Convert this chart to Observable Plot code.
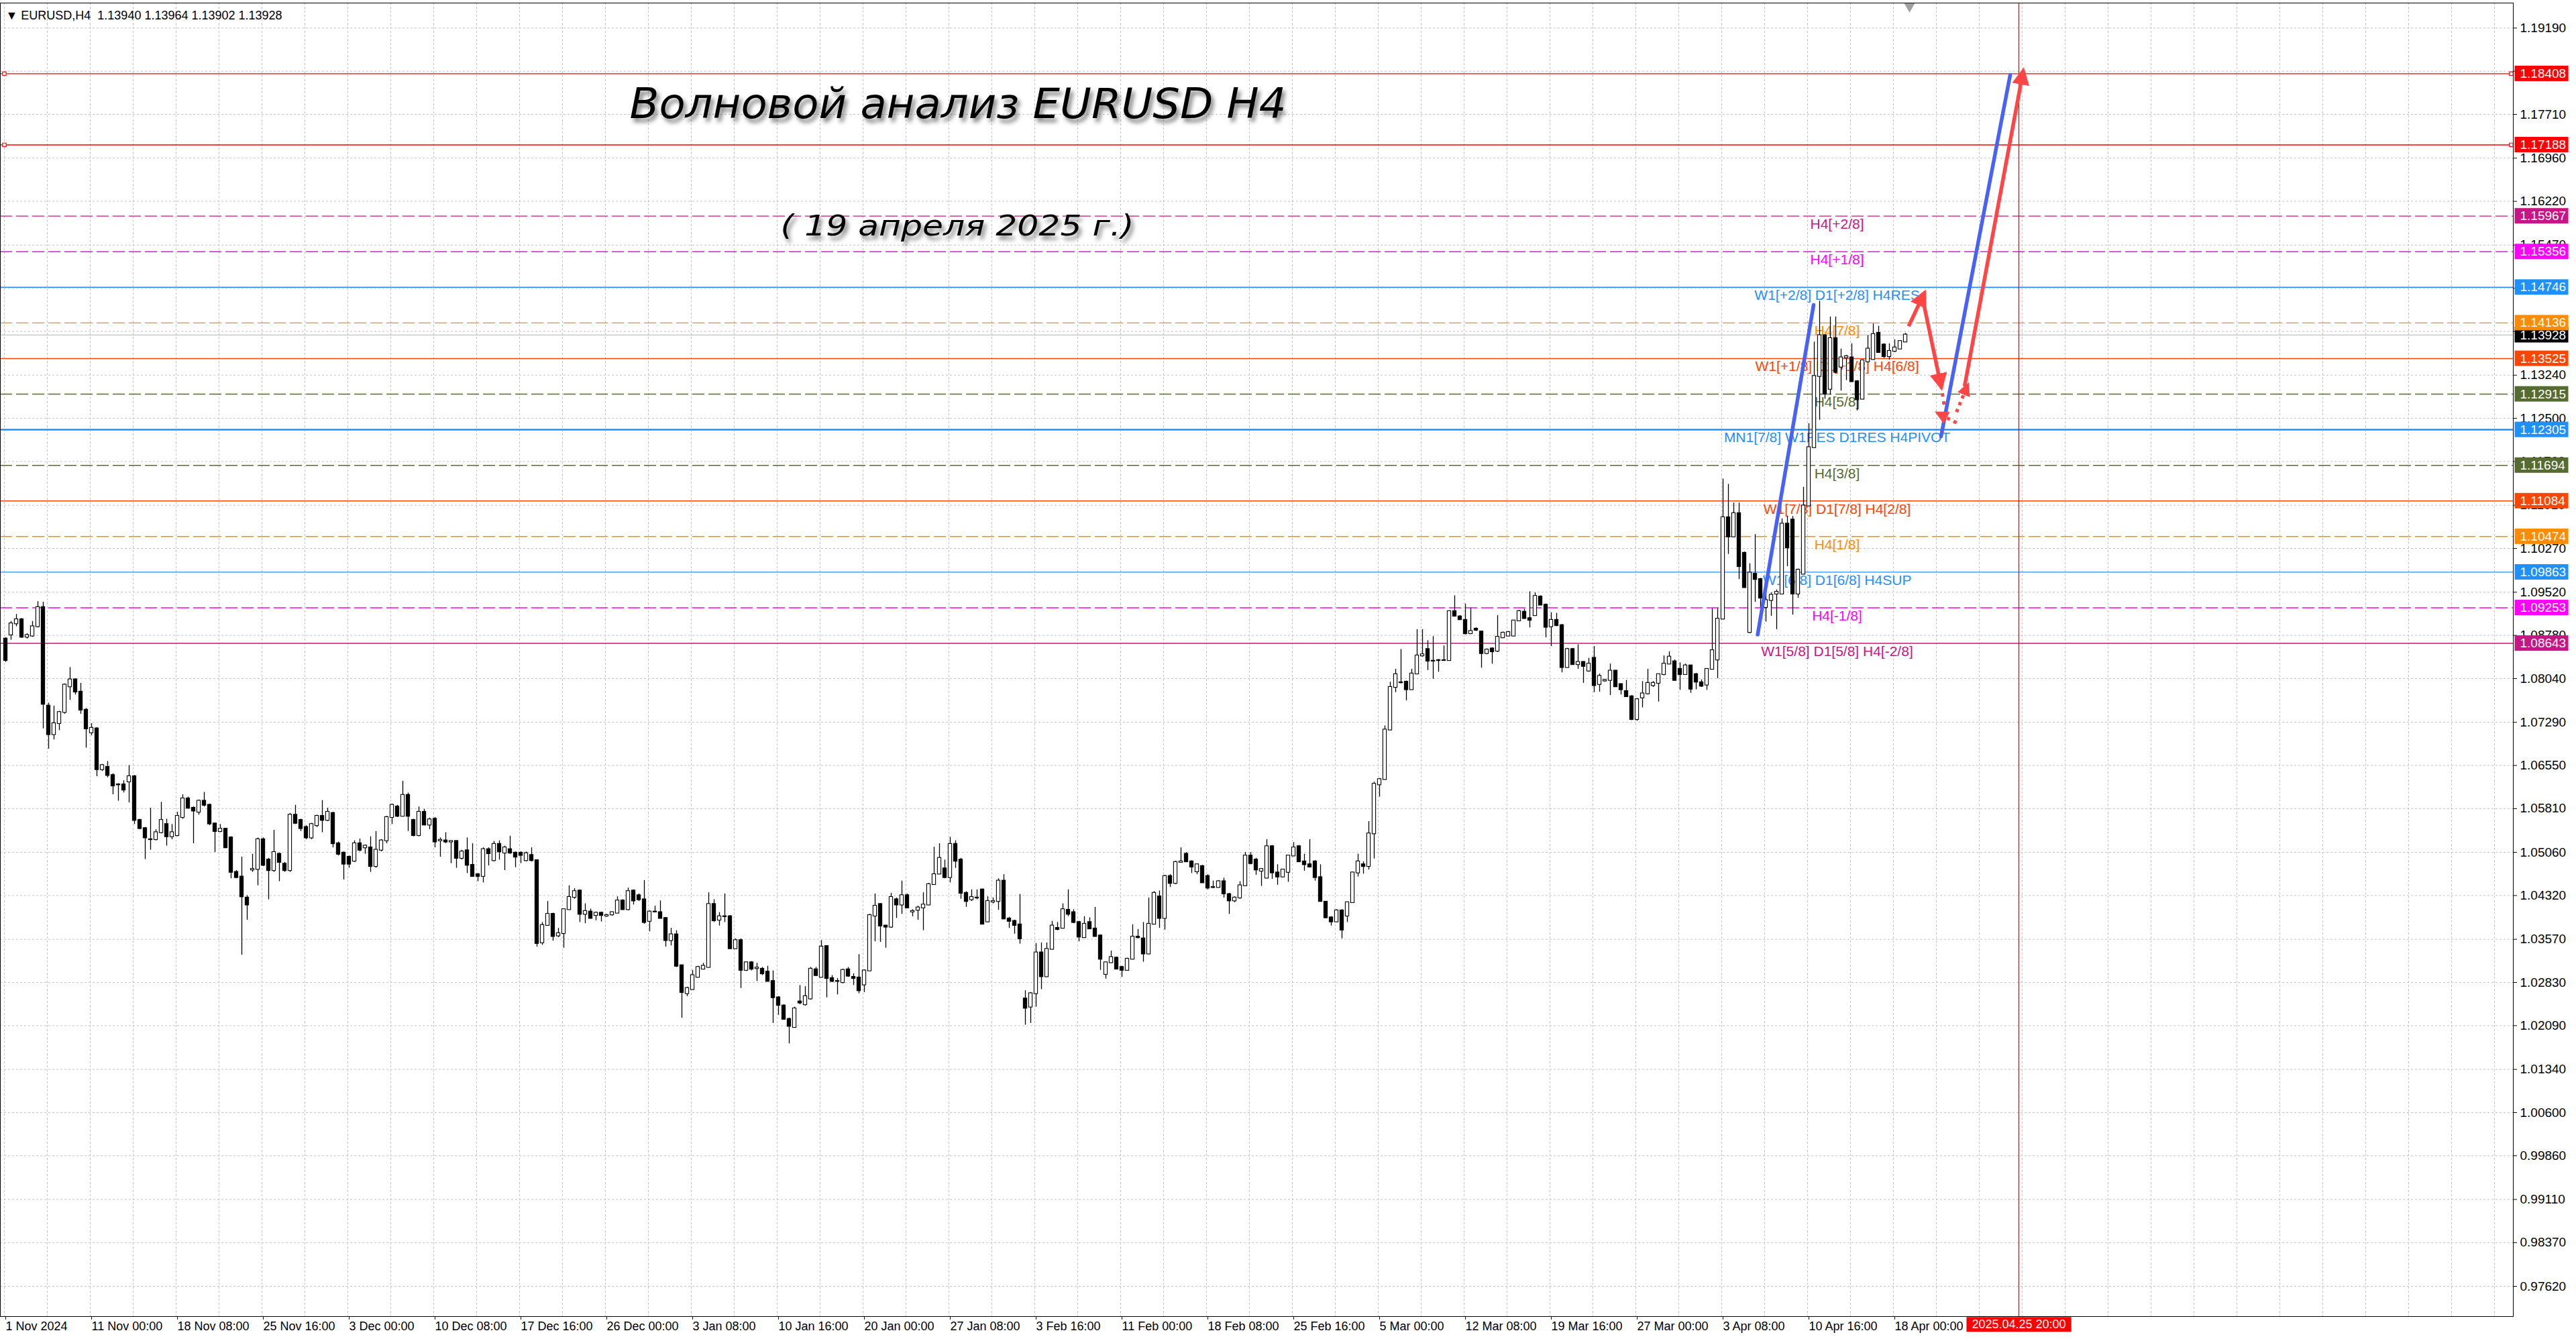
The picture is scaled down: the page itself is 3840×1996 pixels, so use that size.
<!DOCTYPE html>
<html>
<head>
<meta charset="utf-8">
<script src="https://cdn.jsdelivr.net/npm/d3@7"></script>
<script src="https://cdn.jsdelivr.net/npm/@observablehq/plot@0.6"></script>
<style>
  html, body { margin: 0; padding: 0; background: #fff; }
  #chart svg { display: block; }
</style>
</head>
<body>
<div id="chart"></div>
<script>
// EURUSD H4, 1 Nov 2024 .. 18 Apr 2025.
// One candle = two H4 bars, [open, high, low, close] in 1/10000.
const novBars = [
  [10872,10874,10832,10835],[10879,10902,10870,10898],[10898,10914,10893,10905],[10905,10907,10873,10875],
  [10875,10881,10872,10878],[10877,10902,10875,10893],[10893,10936,10891,10926],[10926,10935,10718,10760],
  [10757,10762,10683,10708],[10708,10757,10699,10727],[10727,10748,10715,10746],[10746,10795,10743,10793],
  [10790,10823,10767,10802],[10802,10804,10776,10781],[10781,10796,10743,10750],[10750,10753,10685,10718],
  [10711,10727,10706,10719],[10718,10720,10636,10648],[10648,10657,10645,10655],[10652,10662,10634,10638],
  [10638,10641,10605,10620],[10622,10624,10594,10622],[10622,10629,10608,10613],[10627,10655,10591,10636],
  [10636,10638,10554,10561],[10561,10563,10545,10547],[10547,10549,10494,10531],[10528,10582,10510,10528],
  [10528,10545,10526,10540],[10540,10592,10538,10561],[10554,10563,10517,10533],[10533,10554,10528,10540],
  [10535,10575,10533,10568],[10566,10605,10563,10598],[10598,10601,10580,10582],[10582,10584,10521,10577],
  [10575,10596,10570,10594],[10594,10609,10584,10587],[10587,10589,10552,10555],[10555,10556,10506,10542],
  [10542,10554,10540,10546],[10546,10547,10513,10514],[10531,10533,10461,10472],[10472,10475,10461,10463],
  [10464,10498,10330,10430],[10428,10432,10390,10416],[10476,10503,10472,10477],[10477,10531,10449,10528],
  [10528,10531,10482,10484],[10493,10496,10425,10475],[10475,10544,10472,10506],[10503,10505,10456,10489],
  [10486,10489,10472,10475],[10475,10573,10472,10570],[10570,10587,10554,10556],[10561,10563,10542,10547],
  [10549,10552,10528,10531],[10531,10556,10528,10554],[10552,10570,10549,10568],[10568,10595,10540,10561],
  [10561,10582,10559,10575],[10573,10575,10514,10521],[10521,10524,10500,10503],[10505,10507,10459,10486]
];
const decBars = [
  [10498,10500,10479,10486],[10491,10526,10489,10521],[10521,10529,10507,10510],[10514,10519,10503,10517],
  [10514,10533,10472,10482],[10482,10542,10479,10510],[10510,10528,10507,10526],[10526,10568,10521,10566],
  [10566,10589,10554,10587],[10584,10587,10566,10568],[10568,10628,10568,10604],[10604,10608,10542,10568],
  [10561,10563,10533,10535],[10535,10584,10533,10575],[10575,10580,10552,10553],[10553,10565,10545,10562],
  [10563,10566,10514,10524],[10526,10531,10498,10527],[10526,10540,10521,10524],[10524,10526,10487,10525],
  [10525,10526,10479,10496],[10496,10510,10493,10507],[10509,10531,10470,10484],[10484,10521,10464,10465],
  [10468,10470,10456,10465],[10465,10514,10454,10511],[10511,10514,10483,10504],[10492,10525,10490,10520],
  [10520,10526,10493,10507],[10505,10517,10475,10514],[10511,10534,10503,10505],[10505,10507,10480,10498],
  [10505,10507,10487,10501],[10492,10507,10490,10504],[10501,10514,10490,10492],[10492,10493,10344,10350],
  [10351,10386,10347,10381],[10381,10422,10380,10400],[10400,10402,10354,10362],[10363,10376,10360,10367],
  [10367,10409,10342,10408],[10408,10449,10407,10429],[10429,10444,10426,10439],[10440,10442,10386,10400],
  [10400,10418,10384,10405],[10404,10409,10392,10393],[10398,10404,10389,10402],[10402,10404,10387,10398],
  [10397,10400,10395,10398],[10399,10404,10397,10403],[10402,10430,10401,10423],[10423,10425,10407,10408],
  [10408,10445,10406,10439],[10440,10442,10416,10423],[10432,10435,10422,10425],[10425,10458,10383,10386],
  [10388,10406,10370,10404],[10404,10414,10403,10404],[10403,10423,10392,10393],[10393,10394,10344,10355],
  [10355,10376,10346,10365],[10365,10372,10309,10311],[10312,10313,10222,10266],[10264,10275,10259,10273]
];
const janBars = [
  [10271,10304,10270,10295],[10292,10311,10291,10309],[10306,10316,10305,10311],[10309,10437,10308,10417],
  [10417,10425,10386,10389],[10390,10403,10380,10396],[10396,10435,10386,10396],[10396,10398,10340,10341],
  [10341,10358,10340,10355],[10355,10358,10273,10304],[10304,10318,10302,10317],[10317,10319,10303,10306],
  [10307,10316,10285,10308],[10306,10309,10295,10298],[10301,10311,10284,10285],[10285,10303,10213,10257],
  [10257,10259,10227,10244],[10243,10245,10219,10220],[10220,10222,10178,10208],[10206,10241,10205,10238],
  [10250,10278,10245,10248],[10245,10276,10243,10259],[10255,10309,10253,10306],[10305,10309,10294,10295],
  [10292,10355,10291,10344],[10345,10346,10257,10290],[10290,10295,10283,10285],[10285,10290,10262,10285],
  [10283,10306,10281,10304],[10305,10309,10292,10294],[10292,10298,10278,10290],[10291,10331,10264,10269],
  [10279,10305,10266,10303],[10303,10400,10303,10398],[10397,10435,10353,10414],[10417,10418,10352,10380],
  [10380,10381,10342,10378],[10378,10436,10376,10429],[10425,10428,10393,10416],[10416,10457,10400,10432],
  [10432,10435,10410,10411],[10404,10408,10396,10405],[10407,10414,10390,10411],[10411,10437,10372,10416],
  [10416,10453,10415,10451],[10451,10515,10450,10468],[10469,10521,10468,10496],[10478,10493,10461,10463],
  [10463,10532,10454,10520],[10520,10526,10479,10491],[10493,10496,10426,10436],[10436,10439,10412,10422],
  [10425,10442,10422,10429],[10428,10442,10425,10428],[10442,10443,10382,10383],[10387,10430,10386,10422],
  [10421,10428,10418,10422],[10422,10461,10407,10457],[10457,10468,10392,10392],[10392,10395,10376,10388],
  [10388,10390,10366,10381],[10382,10434,10349,10358],[10255,10269,10210,10239],[10241,10266,10213,10264]
];
const febBars = [
  [10264,10350,10241,10334],[10334,10351,10271,10293],[10293,10351,10292,10340],[10340,10388,10339,10380],
  [10376,10386,10372,10374],[10376,10418,10375,10408],[10407,10442,10396,10400],[10403,10408,10384,10386],
  [10386,10388,10353,10361],[10360,10396,10359,10383],[10386,10394,10374,10375],[10375,10412,10361,10362],
  [10363,10365,10304,10323],[10297,10318,10289,10317],[10317,10337,10316,10326],[10325,10327,10305,10306],
  [10309,10311,10292,10304],[10304,10325,10303,10323],[10323,10382,10322,10361],[10361,10374,10358,10360],
  [10358,10386,10318,10332],[10332,10428,10331,10383],[10383,10439,10382,10436],[10430,10440,10376,10393],
  [10393,10467,10373,10465],[10465,10468,10446,10453],[10453,10491,10451,10489],[10489,10514,10489,10490],
  [10503,10506,10489,10490],[10490,10492,10470,10481],[10473,10486,10468,10485],[10482,10484,10454,10454],
  [10465,10468,10442,10445],[10446,10457,10444,10446],[10446,10458,10445,10456],[10456,10462,10428,10435],
  [10434,10436,10400,10423],[10423,10430,10420,10428],[10428,10456,10426,10449],[10449,10506,10448,10500],
  [10500,10506,10485,10487],[10493,10496,10467,10476],[10474,10478,10448,10477],[10462,10528,10461,10516],
  [10516,10518,10460,10471],[10471,10485,10450,10464],[10464,10477,10463,10476],[10472,10500,10455,10500],
  [10500,10523,10499,10514],[10516,10518,10489,10490],[10490,10503,10474,10485],[10485,10528,10480,10481],
  [10490,10492,10457,10463],[10463,10485,10421,10422],[10421,10422,10393,10394],[10394,10396,10380,10387],
  [10387,10408,10386,10406],[10406,10408,10358,10373],[10397,10421,10386,10420],[10420,10472,10419,10471],
  [10471,10503,10464,10490],[10485,10490,10469,10482],[10482,10559,10476,10538],[10538,10627,10495,10623]
];
const marBars = [
  [10622,10633,10601,10631],[10631,10723,10630,10716],[10716,10798,10715,10789],[10789,10820,10780,10811],
  [10797,10854,10795,10797],[10798,10800,10766,10785],[10785,10820,10784,10812],[10812,10888,10811,10843],
  [10843,10888,10841,10845],[10854,10869,10818,10834],[10834,10876,10803,10834],[10835,10837,10815,10835],
  [10835,10860,10834,10835],[10835,10920,10834,10919],[10919,10946,10910,10911],[10910,10912,10904,10905],
  [10904,10932,10879,10881],[10881,10925,10880,10885],[10889,10891,10885,10887],[10884,10885,10822,10847],
  [10847,10855,10845,10853],[10855,10857,10829,10850],[10851,10912,10849,10875],[10874,10884,10873,10882],
  [10877,10885,10876,10883],[10877,10904,10876,10903],[10903,10921,10902,10919],[10918,10923,10906,10907],
  [10907,10953,10891,10904],[10912,10951,10911,10945],[10944,10946,10929,10930],[10930,10932,10874,10892],
  [10893,10917,10859,10904],[10904,10916,10893,10895],[10895,10897,10814,10823],[10823,10856,10822,10854],
  [10854,10856,10827,10828],[10828,10862,10820,10832],[10832,10833,10796,10825],[10817,10839,10815,10829],
  [10839,10859,10780,10792],[10794,10812,10781,10808],[10800,10803,10798,10801],[10801,10829,10775,10817],
  [10817,10818,10789,10790],[10794,10795,10776,10785],[10782,10801,10773,10773],[10773,10775,10732,10734],
  [10734,10770,10731,10768],[10771,10799,10754,10778],[10778,10820,10776,10796],[10792,10799,10789,10796],
  [10796,10799,10764,10811],[10811,10843,10809,10829],[10829,10850,10828,10841],[10833,10836,10800,10801],
  [10820,10831,10784,10811],[10811,10829,10810,10826],[10826,10827,10779,10786],[10811,10813,10785,10798],
  [10797,10802,10789,10791],[10793,10820,10784,10820],[10820,10924,10819,10852],[10836,10924,10804,10906]
];
const aprBars = [
  [10906,11146,10905,11080],[11080,11137,11017,11047],[11047,11105,11046,11087],[11087,11105,10974,10996],
  [11019,11021,10959,10960],[10883,11001,10881,10985],[10983,11051,10935,10974],[10974,10976,10924,10942],
  [10926,10969,10901,10938],[10938,10951,10911,10947],[10949,10956,10888,10952],[10949,11078,10948,11069],
  [11069,11082,10996,11028],[11076,11082,10913,10949],[10949,10992,10942,10990],[10983,11132,10982,11100],
  [11100,11241,11099,11200],[11200,11381,11199,11322],[11322,11451,11247,11392],[11392,11394,11283,11292],
  [11300,11424,11290,11387],[11387,11424,11327,11329],[11338,11369,11297,11354],[11354,11358,11315,11356],
  [11354,11378,11312,11313],[11313,11315,11263,11282],[11283,11350,11282,11349],[11347,11392,11345,11369],
  [11351,11412,11350,11394],[11396,11408,11362,11363],[11376,11378,11353,11356],[11356,11378,11350,11365],
  [11365,11385,11363,11371],[11369,11383,11368,11382],[11381,11396,11380,11393]
];

// right price scale and bottom time scale (bar index, one H4 bar per step)
const priceTicks = [1.19190, 1.18450, 1.17710, 1.16960, 1.16220, 1.15470, 1.14730, 1.13990, 1.13240, 1.12500,
  1.11760, 1.11010, 1.10270, 1.09520, 1.08780, 1.08040, 1.07290, 1.06550, 1.05810, 1.05060, 1.04320, 1.03570,
  1.02830, 1.02090, 1.01340, 1.00600, 0.99860, 0.99110, 0.98370, 0.97620];
const timeTicks = [0, 32, 64, 96, 128, 160, 192, 224, 256, 288, 320, 352, 384, 416, 448, 480, 512, 544,
  576, 608, 640, 672, 704];
const timeLabels = ["1 Nov 2024", "11 Nov 00:00", "18 Nov 08:00", "25 Nov 16:00", "3 Dec 00:00", "10 Dec 08:00",
  "17 Dec 16:00", "26 Dec 00:00", "3 Jan 08:00", "10 Jan 16:00", "20 Jan 00:00", "27 Jan 08:00", "3 Feb 16:00",
  "11 Feb 00:00", "18 Feb 08:00", "25 Feb 16:00", "5 Mar 00:00", "12 Mar 08:00", "19 Mar 16:00", "27 Mar 00:00",
  "3 Apr 08:00", "10 Apr 16:00", "18 Apr 00:00"];

// Murrey levels
const levelPrices = [1.18408, 1.17188, 1.15967, 1.15356, 1.14746, 1.14136, 1.13525, 1.12915, 1.12305,
  1.11694, 1.11084, 1.10474, 1.09863, 1.09253, 1.08643];
const levelTags = ["", "", "H4[+2/8]", "H4[+1/8]", "W1[+2/8] D1[+2/8] H4RES", "H4[7/8]",
  "W1[+1/8] D1[+1/8] H4[6/8]", "H4[5/8]", "MN1[7/8] W1RES D1RES H4PIVOT", "H4[3/8]",
  "W1[7/8] D1[7/8] H4[2/8]", "H4[1/8]", "W1[6/8] D1[6/8] H4SUP", "H4[-1/8]", "W1[5/8] D1[5/8] H4[-2/8]"];
const levelKinds = ["target", "target", "±2/8", "±1/8", "8/8", "7/8", "6/8", "5/8", "4/8",
  "3/8", "2/8", "1/8", "0/8", "±1/8", "±2/8"];

const bid = 1.13928;
const header = "▼ EURUSD,H4  1.13940 1.13964 1.13902 1.13928";
const futureBar = 750.75;
const futureLabel = "2025.04.25 20:00";

// hand-drawn wave forecast, [bar, price] -> [bar, price]
const blueWaves = [[653.4, 1.08793, 674.25, 1.14445], [721.75, 1.12190, 747.5, 1.18383]];
const redArrows = [[709.65, 1.14078, 715.25, 1.14628], [715.25, 1.14470, 721.7, 1.13061],
  [730.5, 1.13048, 752.25, 1.18430]];
const redDotted = [[721.75, 1.13066, 723.0, 1.12699]];
const redDottedArrows = [[727.5, 1.12424, 720.75, 1.12584], [727.5, 1.12607, 731.5, 1.13054]];

const title = "Волновой анализ EURUSD H4";
const subtitle = "( 19 апреля 2025 г.)";

// ---------------------------------------------------------------
const F = "Tahoma, 'Liberation Sans', Arial, sans-serif";
const HAND = "'DejaVu Sans Condensed', 'DejaVu Sans', sans-serif";
const BLUE = "#4862f6", RED = "#ff4646";

const kindColor = {
  "target": "#ff0000", "±2/8": "#c71585", "±1/8": "#ff00ff",
  "8/8": "#1e90ff", "7/8": "#ff8c00", "6/8": "#ff4500", "5/8": "#556b2f",
  "4/8": "#1e90ff", "3/8": "#556b2f", "2/8": "#ff4500", "1/8": "#ff8c00", "0/8": "#1e90ff"
};

const candles = [...novBars, ...decBars, ...janBars, ...febBars, ...marBars, ...aprBars]
  .map(([o, h, l, c], k) => ({bar: 2 * k + 0.5, open: o / 1e4, high: h / 1e4, low: l / 1e4, close: c / 1e4}));

const levels = levelPrices.map((price, i) => ({
  price, tag: levelTags[i], kind: levelKinds[i], dashed: levelTags[i].startsWith("H4[")
}));
const seg = ([x1, y1, x2, y2]) => ({x1, y1, x2, y2});
const tags = [{price: bid, color: "#000"}, ...levels.map(d => ({price: d.price, color: kindColor[d.kind]}))];
const targets = levels.filter(d => d.kind === "target");
const segOpts = {x1: "x1", y1: "y1", x2: "x2", y2: "y2"};

const chart = Plot.plot({
  width: 3840,
  height: 1996,
  marginLeft: 0,
  marginRight: 94,
  marginTop: 4,
  marginBottom: 34,
  style: {background: "#fff", color: "#000", fontFamily: F},
  x: {domain: [-1.5, 935]},
  y: {domain: [0.971036, 1.196193]},
  color: {domain: Object.keys(kindColor), range: Object.values(kindColor)},
  marks: [
    Plot.gridX(d3.range(0, 935, 16), {stroke: "#c2c2c2", strokeOpacity: 1, strokeDasharray: "3,3"}),
    Plot.gridY(priceTicks, {stroke: "#c2c2c2", strokeOpacity: 1, strokeDasharray: "3,3"}),

    Plot.ruleY([bid], {stroke: "#c0c0c0", strokeWidth: 1.3}),
    Plot.ruleY(levels.filter(d => !d.dashed), {
      y: "price", stroke: "kind", strokeWidth: d => d.kind === "4/8" ? 2.6 : 1.4
    }),
    Plot.ruleY(levels.filter(d => d.dashed), {y: "price", stroke: "kind", strokeWidth: 1.4, strokeDasharray: "18,6"}),
    Plot.dot(targets, {x: 0, y: "price", symbol: "square", r: 3, stroke: "#ff0000", fill: "#fff", strokeWidth: 1.2}),
    Plot.dot(targets, {x: 934.25, y: "price", symbol: "square", r: 3, stroke: "#ff0000", fill: "#fff", strokeWidth: 1.2}),

    Plot.text(levels.filter(d => d.tag), {
      x: 683, y: "price", text: "tag", fill: "kind", fontSize: 21,
      fontFamily: "'Liberation Sans', Arial, sans-serif", lineAnchor: "top", dy: 4
    }),

    Plot.ruleX(candles, {x: "bar", y1: "low", y2: "high", stroke: "#000", strokeWidth: 1.3}),
    Plot.rect(candles, {
      x1: d => d.bar - 0.65, x2: d => d.bar + 0.65, y1: "open", y2: "close",
      fill: d => d.close >= d.open ? "#fff" : "#000", stroke: "#000", strokeWidth: 1.1,
      insetTop: -0.6, insetBottom: -0.6
    }),

    Plot.ruleX([futureBar], {stroke: "#ff0000", strokeWidth: 1.3}),

    // link order matters: heads are attached below by position
    Plot.link(blueWaves.map(seg), {...segOpts, stroke: BLUE, strokeWidth: 5.5, strokeLinecap: "round"}),
    Plot.link(redArrows.map(seg), {...segOpts, stroke: RED, strokeWidth: 5.5}),
    Plot.link(redDotted.map(seg), {...segOpts, stroke: RED, strokeWidth: 5, strokeDasharray: "5,7"}),
    Plot.link(redDottedArrows.map(seg), {...segOpts, stroke: RED, strokeWidth: 5, strokeDasharray: "5,6"}),

    Plot.text([title], {
      x: 233, y: 1.17873, text: d => d, textAnchor: "start", fontSize: 62, fontFamily: HAND,
      fontStyle: "italic", fill: "#000"
    }),
    Plot.text([subtitle], {
      x: 289.25, y: 1.15789, text: d => d, textAnchor: "start", fontSize: 42, fontFamily: HAND,
      fontStyle: "italic", fill: "#000"
    }),
    Plot.text([header], {
      frameAnchor: "top-left", text: d => d, textAnchor: "start", lineAnchor: "top",
      dx: 8, dy: 12, fontSize: 18, fill: "#000"
    }),

    Plot.dot([710], {x: d => d, frameAnchor: "top", dy: 5, symbol: "triangle", rotate: 180, r: 6, fill: "#a0a0a0"}),

    Plot.axisY(priceTicks, {
      anchor: "right", tickFormat: d => d.toFixed(5), tickSize: 5, tickPadding: 5,
      fontSize: 19, fontFamily: F, label: null
    }),
    Plot.axisX(timeTicks, {
      anchor: "bottom", tickFormat: d => timeLabels[timeTicks.indexOf(d)], tickSize: 5, tickPadding: 3,
      textAnchor: "start", dx: 2, fontSize: 18, fontFamily: F, label: null
    }),
    Plot.frame({stroke: "#000"}),

    Plot.text(tags, {
      y: "price", text: d => d.price.toFixed(5), frameAnchor: "right", dx: 10, textAnchor: "start",
      fill: "#fff", fontSize: 19, fontFamily: F
    }),
    Plot.text([futureLabel], {
      x: futureBar, frameAnchor: "bottom", text: d => d, lineAnchor: "top", dy: 5,
      fill: "#fff", fontSize: 18, fontFamily: F
    })
  ]
});

document.getElementById("chart").appendChild(chart);
const svg = d3.select(chart);
const defs = svg.insert("defs", ":first-child");

// coloured boxes behind the white price tags and the time tag
const boxColor = new Map(tags.map(d => [d.price.toFixed(5), d.color]));
boxColor.set(futureLabel, "#ff0000");
svg.selectAll("text").each(function () {
  const key = this.textContent;
  if (!boxColor.has(key) || getComputedStyle(this).fill !== "rgb(255, 255, 255)") return;
  const b = this.getBBox();
  const isTime = key === futureLabel;
  const rect = document.createElementNS("http://www.w3.org/2000/svg", "rect");
  const tf = this.getAttribute("transform");
  if (tf) rect.setAttribute("transform", tf);
  rect.setAttribute("x", b.x - 8);
  rect.setAttribute("y", b.y - 1);
  rect.setAttribute("width", isTime ? b.width + 16 : 80);
  rect.setAttribute("height", b.height + 2);
  rect.setAttribute("fill", boxColor.get(key));
  rect.setAttribute("stroke", "none");
  this.parentNode.insertBefore(rect, this);
});

// filled arrow heads for the red forecast arrows
function head(id, size) {
  defs.append("marker").attr("id", id).attr("viewBox", "0 0 10 10").attr("refX", 7).attr("refY", 5)
    .attr("markerWidth", size).attr("markerHeight", size).attr("markerUnits", "userSpaceOnUse")
    .attr("orient", "auto")
    .append("path").attr("d", "M0,0L10,5L0,10z").attr("fill", RED).attr("stroke", "none");
}
head("head-big", 26);
head("head-small", 20);
const links = svg.selectAll('g[aria-label="link"]').nodes();
if (links[1]) d3.select(links[1]).selectAll("path").attr("marker-end", "url(#head-big)");
if (links[3]) d3.select(links[3]).selectAll("path").attr("marker-end", "url(#head-small)");

// handwritten caption: stretch to its width and add the soft shadow
defs.append("filter").attr("id", "shadow").attr("x", "-10%").attr("y", "-40%")
  .attr("width", "130%").attr("height", "200%")
  .append("feDropShadow").attr("dx", 4).attr("dy", 6).attr("stdDeviation", 3)
  .attr("flood-color", "#000").attr("flood-opacity", 0.5);
svg.selectAll("text").each(function () {
  const t = this.textContent;
  if (t !== title && t !== subtitle) return;
  d3.select(this).attr("textLength", t === title ? 979 : 527)
    .attr("lengthAdjust", "spacingAndGlyphs").attr("filter", "url(#shadow)");
});
</script>
</body>
</html>
